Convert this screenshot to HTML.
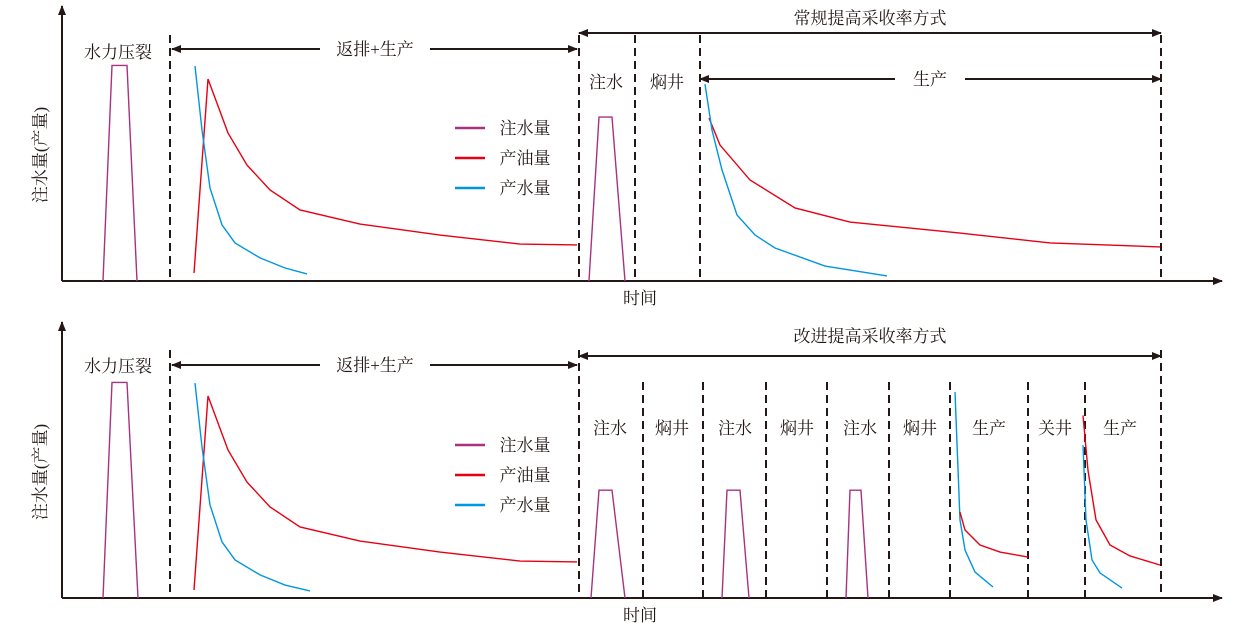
<!DOCTYPE html>
<html><head><meta charset="utf-8">
<style>
body{margin:0;background:#fff;}
svg{display:block;font-family:"Liberation Serif","Noto Serif CJK SC","Noto Sans CJK SC",serif;}
text{font-size:17px;fill:#231815;}
</style></head>
<body>
<svg id="chart" width="1247" height="628" viewBox="0 0 1247 628" xmlns="http://www.w3.org/2000/svg">
<defs>
<marker id="ah" markerWidth="10" markerHeight="8" refX="9" refY="4" orient="auto" markerUnits="userSpaceOnUse"><path d="M0,0 L10,4 L0,8 z" fill="#231815"/></marker>
<marker id="ahs" markerWidth="10" markerHeight="8" refX="1" refY="4" orient="auto" markerUnits="userSpaceOnUse"><path d="M10,0 L0,4 L10,8 z" fill="#231815"/></marker>
</defs>
<g id="g"></g>
</svg>
<script>
// ---- data (time units from axis origin; values 0..100) ----
const topInj1T=[41,50,65,75], topInj1V=[0,98,98,0];
const topOilT=[132,146,166,185,208,238,298,378,458,515], topOilV=[3.6,91.8,67.3,52.7,41.4,32.3,25.9,20.9,16.8,16.4];
const topWatT=[133,140,148,160,173,198,223,245], topWatV=[97.7,68.6,42.3,25.5,17.3,10.5,5.9,3.2];
const topInj2T=[527,537,550,563], topInj2V=[0,74.5,74.5,0];
const topOil2T=[647,658,688,733,788,898,988,1098], topOil2V=[74.1,61.8,45.9,33.2,26.8,21.8,17.3,15.5];
const topWat2T=[643,650,660,675,693,713,763,825], topWat2V=[89.5,68.6,50.5,30,20.9,15,6.8,2.3];
const topDivT=[108,517,573,638,1099];
const botInj1T=[41,50,65,76], botInj1V=[0,98,98,0];
const botOilT=[132,146,166,185,208,238,298,378,458,515], botOilV=[3.6,91.8,67.3,52.7,41.4,32.3,25.9,20.9,16.8,16.4];
const botWatT=[133,140,148,160,173,198,223,248], botWatV=[97.7,68.6,42.3,25.5,17.3,10.5,5.9,3.2];
const botInjCyclesT=[[529,537,550,563],[660,665,678,687],[784,788,799,806]], botInjCycleV=[0,49,49,0];
const botP1WatT=[893,898,903,913,931], botP1WatV=[93.6,35.5,21.8,11.8,5];
const botP1OilT=[898,903,918,938,966], botP1OilV=[39,30.9,24.1,20.9,18.6];
const botP2WatT=[1021,1024,1030,1038,1060], botP2WatV=[69.5,35.5,17.3,11.4,4.5];
const botP2OilT=[1021,1026,1034,1048,1068,1098], botP2OilV=[83,58,35.5,24.1,19.1,15];
const botDivT=[108,517,581,641,704,765,827,888,966,1023,1099];
const topLabels=[["注水",544,82],["焖井",605,82]];
const botLabels=[["注水",548],["焖井",610],["注水",673],["焖井",735],["注水",798],["焖井",858],["生产",927],["关井",993],["生产",1058]];

const NS="http://www.w3.org/2000/svg", G=document.getElementById('g');
const X0=62, SC=2.2;
const xs=t=>X0+t;
function mk(tag,at,txt){const e=document.createElementNS(NS,tag);for(const k in at)e.setAttribute(k,at[k]);if(txt)e.textContent=txt;G.appendChild(e);return e;}
function series(T,V,base,color,name){
  const d=T.map((t,i)=>(i?'L':'M')+xs(t)+','+(base-V[i]*SC)).join(' ');
  const e=mk('path',{d:d,fill:'none',stroke:color,'stroke-width':1.4});
  
  
}
function text(s,x,y,name,extra){const e=mk('text',Object.assign({x:x,y:y,'text-anchor':'middle'},extra||{}),s);
  
  return e;}
function line(x1,y1,x2,y2,name,at){const e=mk('line',Object.assign({x1:x1,y1:y1,x2:x2,y2:y2,stroke:'#231815','stroke-width':2},at||{}));
  
  return e;}
const MAG='#a8327f',RED='#e60012',BLU='#0096e0';

function panel(base,top,pfx){
  line(X0,base,1222,base,pfx+'x-axis',{'marker-end':'url(#ah)'});
  line(X0,base,X0,top,pfx+'y-axis',{'marker-end':'url(#ah)'});
  text('时间',640,base+23,pfx+'x-axis-title');
  const yl=text('注水量(产量)',42,base-126,pfx+'y-axis-title',{transform:'rotate(-90 42 '+(base-126)+')','dominant-baseline':'middle'});
  // legend
  [['注水量',MAG],['产油量',RED],['产水量',BLU]].forEach((l,i)=>{
    const y=base-153+i*30;
    line(455,y,485,y,pfx+'legend-swatch-'+i,{stroke:l[1],'stroke-width':2.5});
    text(l[0],525,y+6,pfx+'legend-entry-'+i);
  });
}
// top panel
const TB=281, BB=598;
panel(TB,6,'top-');
topDivT.forEach((t,i)=>line(xs(t),35,xs(t),TB,'top-divider-'+i,{'stroke-dasharray':'8,5'}));
line(xs(108)+2,49,320,49,'top-flowback-arrow-left',{'marker-end':'url(#ah)','transform':'rotate(180 '+((xs(108)+2+320)/2)+' 49)'});
line(430,49,xs(517)-2,49,'top-flowback-arrow-right',{'marker-end':'url(#ah)'});
text('返排+生产',375,55,'top-flowback-label');
text('水力压裂',118,58,'top-fracture-label');
line(xs(517),33,xs(1099),33,'top-eor-arrow',{'marker-end':'url(#ah)','marker-start':'url(#ahs)'});
text('常规提高采收率方式',870,24,'top-eor-label');
line(xs(638),79,895,79,'top-prod-arrow-left',{'marker-start':'url(#ahs)'});
line(965,79,xs(1099),79,'top-prod-arrow-right',{'marker-end':'url(#ah)'});
text('生产',930,85,'top-prod-label');
topLabels.forEach((l,i)=>text(l[0],xs(l[1]),l[2]+6,'top-phase-label-'+i));
series(topInj1T,topInj1V,TB,MAG,'top-injection-fracture');
series(topOilT,topOilV,TB,RED,'top-oil-1');
series(topWatT,topWatV,TB,BLU,'top-water-1');
series(topInj2T,topInj2V,TB,MAG,'top-injection-2');
series(topOil2T,topOil2V,TB,RED,'top-oil-2');
series(topWat2T,topWat2V,TB,BLU,'top-water-2');
// bottom panel
panel(BB,322,'bot-');
botDivT.forEach((t,i)=>line(xs(t),i<2||i==10?350:382,xs(t),BB,'bot-divider-'+i,{'stroke-dasharray':'8,5'}));
line(xs(108)+2,365,320,365,'bot-flowback-arrow-left',{'marker-end':'url(#ah)','transform':'rotate(180 '+((xs(108)+2+320)/2)+' 365)'});
line(430,365,xs(517)-2,365,'bot-flowback-arrow-right',{'marker-end':'url(#ah)'});
text('返排+生产',375,371,'bot-flowback-label');
text('水力压裂',118,372,'bot-fracture-label');
line(xs(517),356,xs(1099),356,'bot-eor-arrow',{'marker-end':'url(#ah)','marker-start':'url(#ahs)'});
text('改进提高采收率方式',870,342,'bot-eor-label');
botLabels.forEach((l,i)=>text(l[0],xs(l[1]),434,'bot-phase-label-'+i));
series(botInj1T,botInj1V,BB,MAG,'bot-injection-fracture');
series(botOilT,botOilV,BB,RED,'bot-oil-1');
series(botWatT,botWatV,BB,BLU,'bot-water-1');
botInjCyclesT.forEach((T,i)=>series(T,botInjCycleV,BB,MAG,'bot-injection-cycle-'+i));
series(botP1WatT,botP1WatV,BB,BLU,'bot-water-2');
series(botP1OilT,botP1OilV,BB,RED,'bot-oil-2');
series(botP2WatT,botP2WatV,BB,BLU,'bot-water-3');
series(botP2OilT,botP2OilV,BB,RED,'bot-oil-3');
</script>
</body></html>
